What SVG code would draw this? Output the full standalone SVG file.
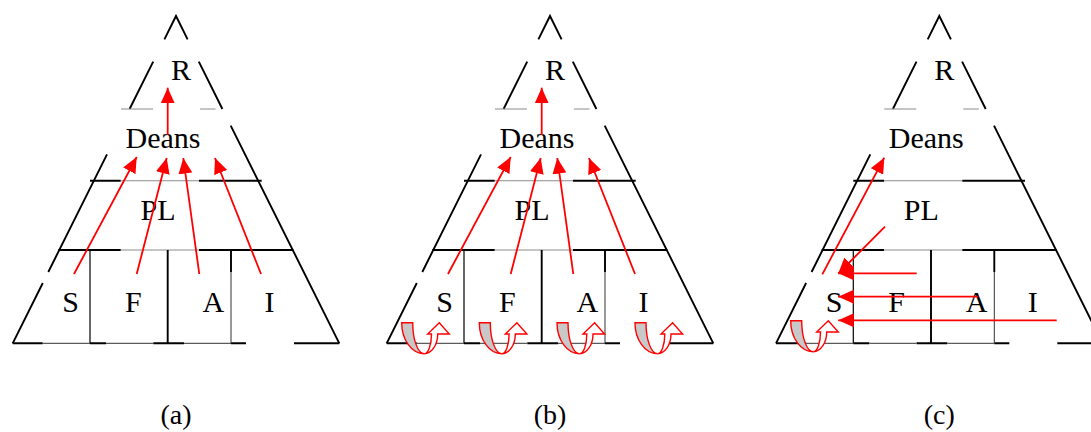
<svg xmlns="http://www.w3.org/2000/svg" xmlns:xlink="http://www.w3.org/1999/xlink" width="1091" height="432" viewBox="0 0 1091 432">
<style>
.k{stroke:#000;stroke-width:1.9;fill:none}
.kt{stroke:#000;stroke-width:1.2;fill:none}
.g{stroke:#8c8c8c;stroke-width:1.1;fill:none}
.t{stroke:#333;stroke-width:1;fill:none}
.a{stroke:#f00;stroke-width:1.8;fill:none;marker-end:url(#ah)}
.lbl{font-family:"Liberation Serif","Times New Roman",serif;font-size:30px;text-anchor:middle;fill:#000}
.cap{font-family:"Liberation Serif","Times New Roman",serif;font-size:28px;text-anchor:middle;fill:#000}
.ub{fill:#c8c8c8;stroke:#f00;stroke-width:1.4}
.uf{fill:#fff;stroke:#f00;stroke-width:1.4}
</style>
<defs>
<marker id="ah" markerUnits="userSpaceOnUse" markerWidth="16" markerHeight="14" refX="15.6" refY="7" orient="auto"><path d="M0,0 L15.6,7 L0,14 Z" fill="#f00"/></marker>
<g id="frame">
<path class="k" d="M164.4,39.3 L176,16 L187.6,39.3 M153.2,61.7 L129.6,109 M198.8,61.7 L222.4,109 M107,154.3 L48.3,272 M42.8,283 L12.7,343.3 M230.7,125.7 L339.3,343.3"/>
<path class="g" d="M121,109 H153 M200,109 H215.5 M120.7,180.7 H199 M120.7,250 H199"/>
<path class="k" d="M90,180.7 H120.7 M199,180.7 H261.7 M58.3,250 H120.7 M199,250 H293.3 M12.7,343.3 H42.7 M90,343.3 H106 M153.3,343.3 H184 M231,343.3 H246 M294,343.3 H339.3 M167.7,250 V343.3 M231,250 V272"/>
<path class="kt" d="M90,250 V343.3"/>
<path class="t" d="M42.7,343.3 H90 M106,343.3 H153.3 M184,343.3 H231 M231,272 V343.3"/>
</g>
<g id="uturn">
<path class="ub" d="M0,0 A22.5,31 0 0 0 22.5,31 A11.5,31 0 0 1 11,0 Z"/>
<path class="uf" d="M22.5,31 A13.5,19.7 0 0 0 36,11.3 L47.6,11.3 L37.6,0 L26,11.3 L29.8,11.3 A7.3,19.7 0 0 1 22.5,31 Z"/>
</g>
</defs>

<!-- Panel (a) -->
<g id="panel-a">
<use xlink:href="#frame" href="#frame"/>
<g id="a-R"><text class="lbl" x="181" y="79.5">R</text></g>
<g id="a-Deans"><text class="lbl" x="163" y="148.3">Deans</text></g>
<g id="a-PL"><text class="lbl" x="158" y="219.5">PL</text></g>
<g id="a-S"><text class="lbl" x="70.7" y="312.3">S</text></g>
<g id="a-F"><text class="lbl" x="133.3" y="312.3">F</text></g>
<g id="a-A"><text class="lbl" x="213.3" y="312.3">A</text></g>
<g id="a-I"><text class="lbl" x="269.5" y="312.3">I</text></g>
<g id="a-connectors">
<path class="a" d="M167.7,135 V87.7"/>
<path class="a" d="M74,274 L136.7,157"/>
<path class="a" d="M136.7,274 L166.7,158"/>
<path class="a" d="M199.3,274 L183.3,158"/>
<path class="a" d="M261,274 L215,158"/>
</g>
<text class="cap" x="176" y="424">(a)</text>
</g>

<!-- Panel (b) -->
<g id="panel-b" transform="translate(374,0)">
<use xlink:href="#frame" href="#frame"/>
<g id="b-R"><text class="lbl" x="181" y="79.5">R</text></g>
<g id="b-Deans"><text class="lbl" x="163" y="148.3">Deans</text></g>
<g id="b-PL"><text class="lbl" x="158" y="219.5">PL</text></g>
<g id="b-S"><text class="lbl" x="70.7" y="312.3">S</text></g>
<g id="b-F"><text class="lbl" x="133.3" y="312.3">F</text></g>
<g id="b-A"><text class="lbl" x="213.3" y="312.3">A</text></g>
<g id="b-I"><text class="lbl" x="269.5" y="312.3">I</text></g>
<g id="b-connectors">
<path class="a" d="M167.7,135 V87.7"/>
<path class="a" d="M74,274 L136.7,157"/>
<path class="a" d="M136.7,274 L166.7,158"/>
<path class="a" d="M199.3,274 L183.3,158"/>
<path class="a" d="M261,274 L215,158"/>
<use xlink:href="#uturn" href="#uturn" transform="translate(27.7,322.7)"/>
<use xlink:href="#uturn" href="#uturn" transform="translate(105.3,322.7)"/>
<use xlink:href="#uturn" href="#uturn" transform="translate(183,322.7)"/>
<use xlink:href="#uturn" href="#uturn" transform="translate(261,322.7)"/>
</g>
<text class="cap" x="176" y="424">(b)</text>
</g>

<!-- Panel (c) -->
<g id="panel-c" transform="translate(763.3,0)">
<use xlink:href="#frame" href="#frame"/>
<g id="c-R"><text class="lbl" x="181" y="79.5">R</text></g>
<g id="c-Deans"><text class="lbl" x="163" y="148.3">Deans</text></g>
<g id="c-PL"><text class="lbl" x="158" y="219.5">PL</text></g>
<g id="c-S"><text class="lbl" x="70.7" y="312.3">S</text></g>
<g id="c-F"><text class="lbl" x="133.3" y="312.3">F</text></g>
<g id="c-A"><text class="lbl" x="213.3" y="312.3">A</text></g>
<g id="c-I"><text class="lbl" x="269.5" y="312.3">I</text></g>
<g id="c-connectors">
<path class="a" d="M59,274.3 L121,157.7"/>
<path class="a" d="M121.7,226.7 L75,273.5"/>
<path class="a" d="M153.4,273.3 H75"/>
<path class="a" d="M215,296.7 H75"/>
<path class="a" d="M293.4,320.3 H75"/>
<use xlink:href="#uturn" href="#uturn" transform="translate(27.4,320.7)"/>
</g>
<text class="cap" x="176" y="424">(c)</text>
</g>
</svg>
